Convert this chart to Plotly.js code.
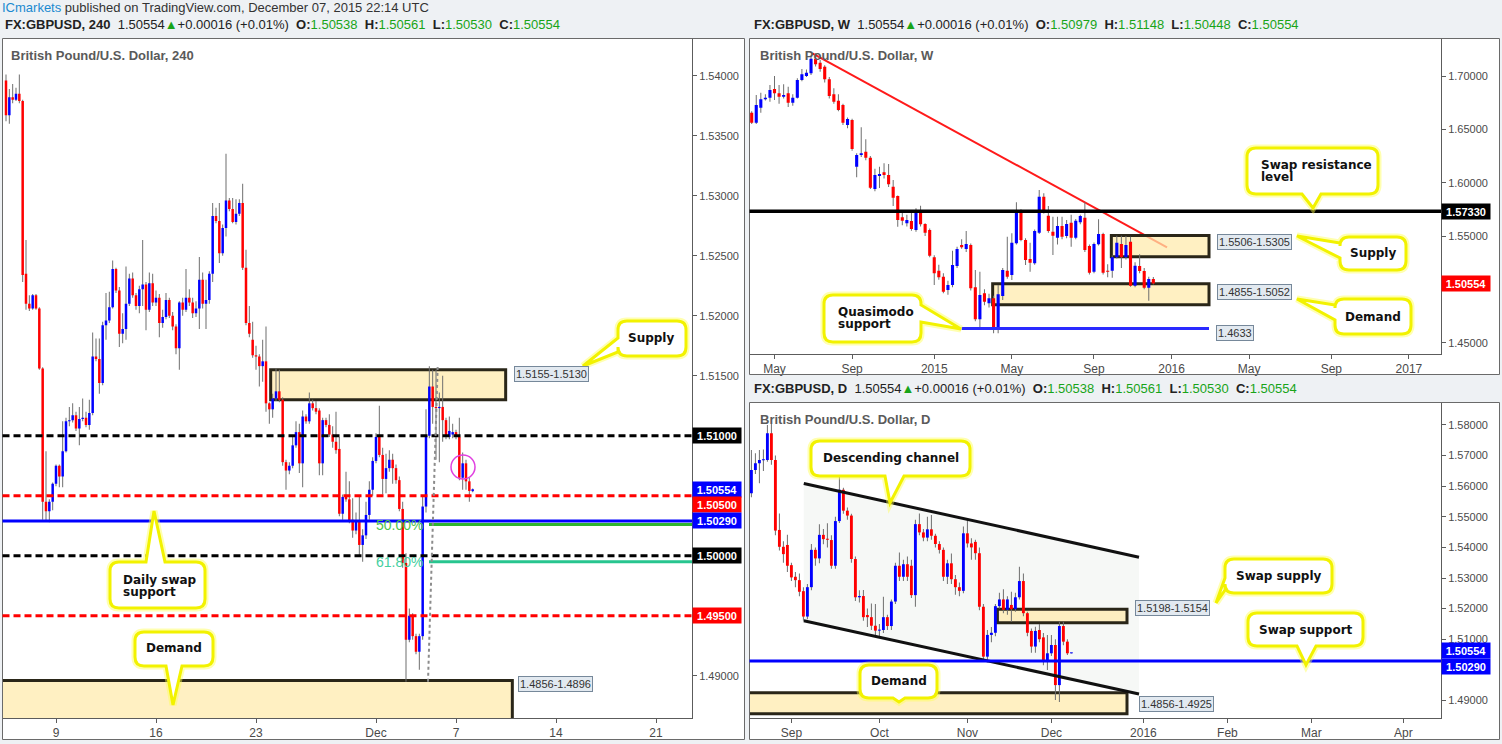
<!DOCTYPE html>
<html><head><meta charset="utf-8">
<script src="https://cdn.plot.ly/plotly-3.0.1.min.js"></script>
<style>html,body{margin:0;padding:0;background:#eef1f4;}#chart{width:1502px;height:744px;}</style>
</head><body><div id="chart"></div>
<script>
// ---------------- DATA ----------------
// GBPUSD 240-minute candles (left panel)
const h4Open=[1.5396,1.5367,1.5382,1.5380,1.5385,1.5379,1.5235,1.5210,1.5206,1.5217,
1.5206,1.5156,1.5045,1.5037,1.5045,1.5060,1.5075,1.5066,1.5087,1.5112,
1.5113,1.5117,1.5106,1.5114,1.5115,1.5109,1.5119,1.5166,1.5164,1.5144,
1.5192,1.5196,1.5207,1.5239,1.5221,1.5185,1.5189,1.5210,1.5231,1.5217,
1.5208,1.5222,1.5226,1.5205,1.5227,1.5211,1.5215,1.5194,1.5199,1.5213,
1.5200,1.5191,1.5173,1.5211,1.5205,1.5215,1.5211,1.5202,1.5206,1.5230,
1.5210,1.5213,1.5235,1.5283,1.5279,1.5252,1.5273,1.5296,1.5289,1.5278,
1.5285,1.5294,1.5240,1.5194,1.5180,1.5167,1.5166,1.5158,1.5162,1.5127,
1.5122,1.5131,1.5137,1.5130,1.5078,1.5071,1.5075,1.5092,1.5103,1.5077,
1.5116,1.5112,1.5127,1.5123,1.5121,1.5077,1.5113,1.5109,1.5101,1.5095,
1.5089,1.5035,1.5049,1.5047,1.5030,1.5021,1.5029,1.5009,1.5017,1.5034,
1.5055,1.5079,1.5099,1.5084,1.5064,1.5073,1.5080,1.5073,1.5063,1.5039,
1.4994,1.4930,1.4950,1.4933,1.4920,1.4933,1.5041,1.5100,1.5141,1.5124,
1.5123,1.5124,1.5113,1.5099,1.5101,1.5103,1.5099,1.5065,1.5077,1.5062,
1.50538];
const h4High=[1.5401,1.5389,1.5393,1.5390,1.5401,1.5380,1.5263,1.5217,1.5218,1.5218,
1.5207,1.5157,1.5087,1.5047,1.5061,1.5076,1.5076,1.5112,1.5115,1.5124,
1.5127,1.5120,1.5124,1.5131,1.5120,1.5130,1.5186,1.5181,1.5181,1.5195,
1.5219,1.5220,1.5246,1.5240,1.5224,1.5202,1.5241,1.5235,1.5236,1.5219,
1.5225,1.5263,1.5228,1.5236,1.5235,1.5221,1.5218,1.5205,1.5219,1.5215,
1.5203,1.5193,1.5212,1.5215,1.5239,1.5222,1.5215,1.5212,1.5249,1.5236,
1.5230,1.5237,1.5294,1.5290,1.5294,1.5276,1.5335,1.5298,1.5298,1.5297,
1.5297,1.5310,1.5255,1.5208,1.5195,1.5175,1.5168,1.5180,1.5191,1.5128,
1.5135,1.5156,1.5155,1.5132,1.5080,1.5078,1.5100,1.5112,1.5110,1.5121,
1.5118,1.5136,1.5130,1.5129,1.5123,1.5115,1.5115,1.5118,1.5108,1.5120,
1.5099,1.5051,1.5070,1.5062,1.5048,1.5036,1.5049,1.5022,1.5045,1.5062,
1.5082,1.5102,1.5125,1.5090,1.5085,1.5088,1.5085,1.5076,1.5066,1.5045,
1.5002,1.4956,1.4952,1.4935,1.4935,1.5050,1.5122,1.5158,1.5155,1.5155,
1.5136,1.5150,1.5115,1.5116,1.5110,1.5105,1.5115,1.5086,1.5080,1.5065,
1.50561];
const h4Low=[1.5362,1.5360,1.5377,1.5379,1.5377,1.5228,1.5205,1.5204,1.5205,1.5205,
1.5155,1.5030,1.5029,1.5028,1.5038,1.5058,1.5057,1.5057,1.5086,1.5108,
1.5111,1.5104,1.5092,1.5112,1.5107,1.5105,1.5117,1.5162,1.5135,1.5142,
1.5180,1.5194,1.5206,1.5219,1.5174,1.5177,1.5180,1.5208,1.5215,1.5205,
1.5202,1.5208,1.5188,1.5203,1.5208,1.5208,1.5182,1.5190,1.5197,1.5198,
1.5188,1.5168,1.5155,1.5200,1.5203,1.5208,1.5198,1.5199,1.5189,1.5206,
1.5189,1.5210,1.5228,1.5277,1.5244,1.5250,1.5266,1.5287,1.5277,1.5276,
1.5283,1.5238,1.5192,1.5182,1.5165,1.5155,1.5141,1.5145,1.5120,1.5110,
1.5115,1.5129,1.5128,1.5075,1.5055,1.5068,1.5073,1.5090,1.5069,1.5057,
1.5110,1.5110,1.5121,1.5118,1.5067,1.5067,1.5107,1.5099,1.5090,1.5085,
1.5033,1.5030,1.5045,1.5027,1.5015,1.5018,1.5000,1.4995,1.5014,1.5030,
1.5050,1.5077,1.5082,1.5051,1.5052,1.5070,1.5060,1.5060,1.5037,1.4990,
1.4895,1.4928,1.4930,1.4918,1.4905,1.4930,1.5036,1.5098,1.5110,1.5080,
1.5078,1.5095,1.5097,1.5097,1.5098,1.5097,1.5063,1.5055,1.5055,1.5045,
1.50530];
const h4Close=[1.5367,1.5382,1.5380,1.5385,1.5379,1.5234,1.5210,1.5206,1.5217,1.5206,
1.5156,1.5045,1.5037,1.5045,1.5060,1.5075,1.5066,1.5087,1.5112,1.5113,
1.5117,1.5106,1.5114,1.5115,1.5109,1.5119,1.5166,1.5164,1.5144,1.5192,
1.5196,1.5207,1.5239,1.5221,1.5185,1.5189,1.5210,1.5231,1.5217,1.5208,
1.5222,1.5226,1.5205,1.5227,1.5211,1.5215,1.5194,1.5199,1.5213,1.5200,
1.5191,1.5173,1.5211,1.5205,1.5215,1.5211,1.5202,1.5206,1.5230,1.5210,
1.5213,1.5235,1.5283,1.5279,1.5252,1.5273,1.5296,1.5289,1.5278,1.5285,
1.5294,1.5240,1.5194,1.5185,1.5167,1.5166,1.5158,1.5162,1.5127,1.5122,
1.5131,1.5137,1.5130,1.5078,1.5071,1.5075,1.5092,1.5103,1.5077,1.5116,
1.5112,1.5127,1.5123,1.5120,1.5077,1.5113,1.5109,1.5101,1.5095,1.5088,
1.5035,1.5049,1.5047,1.5029,1.5021,1.5029,1.5009,1.5017,1.5034,1.5055,
1.5079,1.5099,1.5084,1.5064,1.5073,1.5080,1.5073,1.5063,1.5039,1.4994,
1.4930,1.4950,1.4933,1.4920,1.4933,1.5041,1.5100,1.5141,1.5124,1.5123,
1.5124,1.5113,1.5099,1.5104,1.5103,1.5099,1.5065,1.5077,1.5062,1.5054,
1.50554];
const h4TickVals=[15,45,75,111,135,165,195];
const h4TickText=['9','16','23','Dec','7','14','21'];
const h4PriceTicks=[1.490,1.515,1.520,1.525,1.530,1.535,1.540];

// Weekly candles (top right)
const wOpen=[1.6656,1.6562,1.6703,1.6782,1.6797,1.6878,1.6838,1.6806,1.6838,1.6750,
1.6797,1.6963,1.7000,1.7025,1.7162,1.7125,1.7087,1.6969,1.6828,1.6768,
1.6728,1.6541,1.6588,1.6150,1.6260,1.6290,1.6234,1.5941,1.6063,1.6097,
1.6072,1.5962,1.5875,1.5675,1.5619,1.5641,1.5556,1.5719,1.5613,1.5556,
1.5301,1.5175,1.5119,1.4994,1.5041,1.5219,1.5416,1.5378,1.5416,1.5019,
1.4719,1.4963,1.4869,1.4916,1.4626,1.4938,1.5175,1.5135,1.5432,1.5735,
1.5463,1.5285,1.5244,1.5531,1.5869,1.5690,1.5540,1.5484,1.5594,1.5500,
1.5625,1.5484,1.5628,1.5672,1.5406,1.5166,1.5422,1.5519,1.5175,1.5175,
1.5300,1.5425,1.5300,1.5447,1.5034,1.5219,1.5172,1.5016,1.50979];
const wHigh=[1.6670,1.6822,1.6843,1.6830,1.6916,1.7000,1.6916,1.6922,1.6900,1.6830,
1.6980,1.7066,1.7060,1.7180,1.7213,1.7150,1.7100,1.6990,1.6885,1.6830,
1.6740,1.6610,1.6600,1.6275,1.6519,1.6407,1.6250,1.6130,1.6150,1.6182,
1.6175,1.6025,1.5880,1.5744,1.5700,1.5720,1.5760,1.5784,1.5620,1.5570,
1.5320,1.5230,1.5150,1.5080,1.5362,1.5400,1.5469,1.5547,1.5430,1.5181,
1.5166,1.5000,1.4960,1.4940,1.5041,1.5200,1.5494,1.5525,1.5816,1.5750,
1.5480,1.5437,1.5560,1.5931,1.5900,1.5781,1.5681,1.5680,1.5680,1.5650,
1.5700,1.5660,1.5700,1.5816,1.5420,1.5440,1.5657,1.5530,1.5235,1.5320,
1.5503,1.5503,1.5500,1.5494,1.5254,1.5329,1.5200,1.5119,1.51148];
const wLow=[1.6550,1.6550,1.6656,1.6770,1.6759,1.6775,1.6740,1.6790,1.6710,1.6720,
1.6790,1.6950,1.6990,1.7010,1.7090,1.7040,1.6940,1.6790,1.6740,1.6670,
1.6540,1.6510,1.6300,1.6050,1.6240,1.6210,1.5940,1.5920,1.5950,1.6040,
1.5960,1.5781,1.5587,1.5600,1.5590,1.5550,1.5540,1.5590,1.5500,1.5300,
1.5041,1.5090,1.4963,1.4950,1.5020,1.5200,1.5380,1.5350,1.4990,1.4700,
1.4626,1.4850,1.4830,1.4588,1.4588,1.4900,1.5100,1.5088,1.5420,1.5450,
1.5228,1.5166,1.5230,1.5520,1.5710,1.5530,1.5322,1.5420,1.5470,1.5480,
1.5400,1.5470,1.5610,1.5350,1.5140,1.5150,1.5410,1.5140,1.5113,1.5110,
1.5290,1.5200,1.5280,1.5025,1.5020,1.5150,1.5000,1.4894,1.50448];
const wClose=[1.6562,1.6728,1.6782,1.6797,1.6869,1.6838,1.6806,1.6822,1.6750,1.6797,
1.6963,1.7016,1.7031,1.7162,1.7110,1.7066,1.6969,1.6813,1.6759,1.6681,
1.6562,1.6597,1.6316,1.6260,1.6275,1.6234,1.5953,1.6072,1.6081,1.6072,
1.5985,1.5859,1.5650,1.5644,1.5650,1.5566,1.5719,1.5610,1.5531,1.5316,
1.5150,1.5113,1.4978,1.5041,1.5228,1.5378,1.5394,1.5425,1.5010,1.4719,
1.4947,1.4884,1.4916,1.4626,1.4954,1.5181,1.5119,1.5437,1.5728,1.5463,
1.5275,1.5250,1.5547,1.5869,1.5728,1.5547,1.5503,1.5594,1.5494,1.5613,
1.5484,1.5644,1.5688,1.5369,1.5156,1.5425,1.5519,1.5156,1.5166,1.5300,
1.5437,1.5300,1.5416,1.5034,1.5222,1.5172,1.5016,1.5097,1.50554];
const wTickVals=[5,22,40,57,75,92,109,127,144];
const wTickText=['May','Sep','2015','May','Sep','2016','May','Sep','2017'];
const wPriceTicks=[1.45,1.55,1.60,1.65,1.70];

// Daily candles (bottom right)
const dOpen=[1.5577,1.5653,1.5675,1.5685,1.5686,1.5773,1.5686,1.5457,1.5402,1.5408,
1.5342,1.5304,1.5293,1.5257,1.5174,1.5270,1.5392,1.5364,1.5441,1.5427,
1.5424,1.5340,1.5486,1.5588,1.5520,1.5504,1.5362,1.5237,1.5241,1.5179,
1.5172,1.5144,1.5128,1.5130,1.5172,1.5143,1.5223,1.5340,1.5304,1.5345,
1.5340,1.5244,1.5476,1.5449,1.5432,1.5459,1.5438,1.5411,1.5392,1.5304,
1.5348,1.5296,1.5270,1.5258,1.5446,1.5413,1.5418,1.5381,1.5206,1.5043,
1.5114,1.5121,1.5208,1.5230,1.5196,1.5212,1.5198,1.5237,1.5290,1.5185,
1.5127,1.5076,1.5130,1.5106,1.5030,1.5054,1.5081,1.4950,1.5143,1.5092,
1.50538];
const dHigh=[1.5718,1.5708,1.5718,1.5720,1.5800,1.5803,1.5700,1.5511,1.5420,1.5441,
1.5350,1.5320,1.5315,1.5270,1.5280,1.5411,1.5400,1.5476,1.5460,1.5479,
1.5440,1.5500,1.5655,1.5595,1.5530,1.5510,1.5370,1.5260,1.5261,1.5200,
1.5217,1.5215,1.5150,1.5239,1.5180,1.5230,1.5350,1.5383,1.5360,1.5370,
1.5360,1.5490,1.5511,1.5460,1.5500,1.5506,1.5445,1.5420,1.5400,1.5360,
1.5380,1.5310,1.5285,1.5468,1.5495,1.5430,1.5425,1.5400,1.5215,1.5130,
1.5140,1.5215,1.5252,1.5263,1.5240,1.5255,1.5252,1.5337,1.5315,1.5190,
1.5135,1.5141,1.5150,1.5120,1.5114,1.5114,1.5100,1.5157,1.5157,1.5100,
1.50561];
const dLow=[1.5564,1.5640,1.5610,1.5650,1.5680,1.5670,1.5440,1.5390,1.5350,1.5320,
1.5290,1.5270,1.5240,1.5160,1.5165,1.5260,1.5340,1.5348,1.5410,1.5400,
1.5330,1.5330,1.5480,1.5510,1.5490,1.5350,1.5225,1.5220,1.5160,1.5140,
1.5130,1.5111,1.5110,1.5120,1.5130,1.5130,1.5215,1.5290,1.5290,1.5290,
1.5235,1.5206,1.5440,1.5420,1.5420,1.5425,1.5400,1.5380,1.5290,1.5280,
1.5280,1.5245,1.5240,1.5250,1.5400,1.5360,1.5360,1.5195,1.5030,1.5025,
1.5090,1.5110,1.5200,1.5185,1.5180,1.5157,1.5190,1.5230,1.5175,1.5110,
1.5056,1.5056,1.5090,1.5015,1.4999,1.5045,1.4901,1.4895,1.5080,1.5048,
1.50530];
const dClose=[1.5653,1.5675,1.5686,1.5688,1.5773,1.5686,1.5455,1.5402,1.5378,1.5340,
1.5302,1.5293,1.5255,1.5174,1.5270,1.5392,1.5364,1.5441,1.5427,1.5425,
1.5340,1.5486,1.5588,1.5520,1.5504,1.5362,1.5237,1.5241,1.5172,1.5172,
1.5144,1.5128,1.5130,1.5172,1.5143,1.5223,1.5340,1.5304,1.5345,1.5304,
1.5244,1.5476,1.5449,1.5432,1.5459,1.5438,1.5411,1.5392,1.5304,1.5348,
1.5296,1.5270,1.5258,1.5446,1.5413,1.5400,1.5381,1.5206,1.5043,1.5114,
1.5121,1.5208,1.5230,1.5196,1.5230,1.5198,1.5237,1.5290,1.5185,1.5121,
1.5076,1.5127,1.5100,1.5030,1.5054,1.5081,1.4950,1.5143,1.5092,1.5054,
1.50554];
const dTickVals=[10,32,54,75,98,119,140,163];
const dTickText=['Sep','Oct','Nov','Dec','2016','Feb','Mar','Apr'];
const dPriceTicks=[1.49,1.51,1.52,1.53,1.54,1.55,1.56,1.57,1.58];

// Zones and levels
const h4Supply=[1.5130,1.5155];
const h4Demand=[1.4856,1.4896];
const h4Round=[1.5100,1.5000];
const h4Half=[1.5050,1.4950];
const swapSupport=1.5029;
const fibAnchor=[1.4895,1.5157];
const fibRatios=[0.5,0.618];
const wSupply=[1.5305,1.5506];
const wDemand=[1.4855,1.5052];
const wQuasimodo=1.4633;
const wSwapRes=1.5733;
const wTrend=[1.7213,1.5394];
const dSwapSupply=[1.5154,1.5198];
const dDemand=[1.4856,1.4925];
const dChannelTop=[1.5609,1.5368];
const dChannelBot=[1.5160,1.4921];
const lastChange='+0.00016 (+0.01%)';

// ---------------- LAYOUT HELPERS ----------------
const W=1502,H=744;
const fx=px=>px/W, fy=py=>1-py/H;
const FONT='Liberation Sans, Arial, sans-serif';
const BFONT='DejaVu Sans, Verdana, sans-serif';
const GREEN='#18a418';

const PN={
 h4:{x0:2.5,x1:692,y0:38.5,y1:718,xr:[-1.05,205.8],yr:[1.48648,1.54310]},
 w:{x0:749.5,x1:1441,y0:38.5,y1:353.5,xr:[-0.48,151.03],yr:[1.43988,1.73515]},
 d:{x0:749.5,x1:1441,y0:402.5,y1:718,xr:[-0.475,172.4],yr:[1.48425,1.58735]}
};

function xAxis(p,tv,tt,anchor){return {domain:[fx(p.x0),fx(p.x1)],range:p.xr,anchor:anchor,showgrid:false,zeroline:false,showline:true,linecolor:'#5c5c5c',linewidth:1,ticks:'outside',ticklen:4,tickcolor:'#5c5c5c',tickmode:'array',tickvals:tv,ticktext:tt,tickfont:{family:FONT,size:12,color:'#4a4a4a'},fixedrange:true};}
function yAxis(p,tv,anchor){return {domain:[fy(p.y1),fy(p.y0)],range:p.yr,anchor:anchor,side:'right',showgrid:false,zeroline:false,showline:true,linecolor:'#5c5c5c',linewidth:1,ticks:'outside',ticklen:4,tickcolor:'#5c5c5c',tickmode:'array',tickvals:tv,tickformat:'.5f',tickfont:{family:FONT,size:11,color:'#4a4a4a'},fixedrange:true};}

function candles(o,h,l,c,xa,ya,bodyW,wickW,minH){
 const x=o.map((_,i)=>i);
 const wick={type:'bar',x:x,base:l,y:h.map((v,i)=>v-l[i]),width:wickW,marker:{color:'#6f6f6f',line:{width:0}},xaxis:xa,yaxis:ya,hoverinfo:'skip',showlegend:false};
 const body={type:'bar',x:x,base:o.map((v,i)=>Math.min(v,c[i])),y:o.map((v,i)=>Math.max(Math.abs(c[i]-v),minH)),width:bodyW,
  marker:{color:o.map((v,i)=>c[i]>=v?'#0000ff':'#ff0000'),line:{width:0}},xaxis:xa,yaxis:ya,hoverinfo:'skip',showlegend:false};
 return [wick,body];
}

const traces=[].concat(
 candles(h4Open,h4High,h4Low,h4Close,'x','y',0.75,0.3,0.00009),
 candles(wOpen,wHigh,wLow,wClose,'x2','y2',0.68,0.22,0.0009),
 candles(dOpen,dHigh,dLow,dClose,'x3','y3',0.72,0.25,0.00033)
);

const shapes=[], ann=[];
function rectPx(x0,y0,x1,y1,o){shapes.push(Object.assign({type:'rect',xref:'paper',yref:'paper',x0:fx(x0),x1:fx(x1),y0:fy(y1),y1:fy(y0)},o));}
[[2.5,38.5,744.5,739.5],[749.5,38.5,1499.5,374.5],[749.5,402.5,1499.5,739.5]].forEach(r=>{
 rectPx(r[0],r[1],r[2],r[3],{fillcolor:'#ffffff',line:{width:0},layer:'below'});
 rectPx(r[0],r[1],r[2],r[3],{fillcolor:'rgba(0,0,0,0)',line:{color:'#6a6a6a',width:1},layer:'above'});
});
function zone(xa,ya,x0,x1,lh){shapes.push({type:'rect',xref:xa,yref:ya,x0:x0,x1:x1,y0:lh[0],y1:lh[1],fillcolor:'rgba(255,234,170,0.72)',line:{color:'#2a2618',width:3},layer:'below'});}
function level(xa,ya,y,color,width,dash){shapes.push({type:'line',xref:xa+' domain',yref:ya,x0:0,x1:1,y0:y,y1:y,line:{color:color,width:width,dash:dash||'solid'},layer:'above'});}
function seg(xa,ya,x0,y0,x1,y1,color,width,dash,layer){shapes.push({type:'line',xref:xa,yref:ya,x0:x0,y0:y0,x1:x1,y1:y1,line:{color:color,width:width,dash:dash||'solid'},layer:layer||'above'});}

// ---- left (240) panel ----
zone('x','y',79.4,149.9,h4Supply);
zone('x','y',-5,151.9,h4Demand);
h4Round.forEach(v=>level('x','y',v,'#000000',3,'7px,4px'));
h4Half.forEach(v=>level('x','y',v,'#ff0000',3,'7px,4px'));
level('x','y',swapSupport,'#0000ff',3);
const fibCols=['#2fb52f','#28c58f'];
const fibText=['#4cc24c','#45cfa0'];
fibRatios.forEach((r,i)=>{
 const v=fibAnchor[1]-(fibAnchor[1]-fibAnchor[0])*r;
 seg('x','y',126.9,v,206,v,fibCols[i],3);
 ann.push({xref:'x',yref:'y',x:125.8,y:v,xanchor:'right',yanchor:'middle',text:(r*100).toFixed(2)+'%',showarrow:false,font:{family:FONT,size:14,color:fibText[i]}});
});
seg('x','y',126.6,fibAnchor[0],129.5,fibAnchor[1]+0.0001,'#8c8c8c',2,'dot');
shapes.push({type:'circle',xref:'x',yref:'y',x0:133.5,x1:140.7,y0:1.5064,y1:1.5084,line:{color:'#e040e0',width:1.5},layer:'above'});

// ---- weekly panel ----
seg('x2','y2',13.3,wTrend[0],91.0,wTrend[1],'#ff1a1a',2,'solid','below');
zone('x2','y2',78.8,100.2,wSupply);
zone('x2','y2',52.8,100.2,wDemand);
level('x2','y2',wSwapRes,'#000000',3.5);
seg('x2','y2',46,wQuasimodo,100.2,wQuasimodo,'#2a2aff',3);

// ---- daily panel ----
shapes.push({type:'path',xref:'x3',yref:'y3',path:'M13.1,'+dChannelTop[0]+' L96.9,'+dChannelTop[1]+' L96.9,'+dChannelBot[1]+' L13.1,'+dChannelBot[0]+' Z',fillcolor:'rgba(228,236,228,0.35)',line:{width:0},layer:'below'});
zone('x3','y3',61.5,93.9,dSwapSupply);
zone('x3','y3',-5,93.9,dDemand);
seg('x3','y3',13.1,dChannelTop[0],96.9,dChannelTop[1],'#111111',3);
seg('x3','y3',13.1,dChannelBot[0],96.9,dChannelBot[1],'#111111',3);
level('x3','y3',swapSupport,'#0000ff',3);

// ---- callout bubbles ----
function bubble(b){
 const [x0,y0,x1,y1]=b.box, r=9, t=b.tail, tp=t.tip;
 const P=(x,y)=>fx(x).toFixed(6)+','+fy(y).toFixed(6);
 let d='M'+P(x0+r,y0);
 if(t.side==='top') d+=' L'+P(t.a,y0)+' L'+P(tp[0],tp[1])+' L'+P(t.b,y0);
 d+=' L'+P(x1-r,y0)+' Q'+P(x1,y0)+' '+P(x1,y0+r);
 if(t.side==='right') d+=' L'+P(x1,t.a)+' L'+P(tp[0],tp[1])+' L'+P(x1,t.b);
 d+=' L'+P(x1,y1-r)+' Q'+P(x1,y1)+' '+P(x1-r,y1);
 if(t.side==='bottom') d+=' L'+P(t.b,y1)+' L'+P(tp[0],tp[1])+' L'+P(t.a,y1);
 d+=' L'+P(x0+r,y1)+' Q'+P(x0,y1)+' '+P(x0,y1-r);
 if(t.side==='left') d+=' L'+P(x0,t.b)+' L'+P(tp[0],tp[1])+' L'+P(x0,t.a);
 d+=' L'+P(x0,y0+r)+' Q'+P(x0,y0)+' '+P(x0+r,y0)+' Z';
 shapes.push({type:'path',xref:'paper',yref:'paper',path:d,line:{color:'rgba(255,255,80,0.45)',width:7},fillcolor:'rgba(0,0,0,0)',layer:'above'});
 shapes.push({type:'path',xref:'paper',yref:'paper',path:d,line:{color:'#f2f200',width:3},fillcolor:'#ffffff',layer:'above'});
 b.lines.forEach((ln,i)=>{
  ann.push({xref:'paper',yref:'paper',x:fx(b.tx),y:fy(b.ty+i*12),xanchor:b.left?'left':'center',yanchor:'middle',text:'<b>'+ln+'</b>',showarrow:false,font:{family:BFONT,size:12,color:'#111111'}});
 });
}
[
 {lines:['Supply'],box:[618,321,686,356],tail:{side:'left',a:338,b:352,tip:[583,366]},tx:651,ty:338},
 {lines:['Daily swap','support'],box:[110,562,205,608],tail:{side:'top',a:146,b:165,tip:[154,511]},tx:121,ty:579.5,left:true},
 {lines:['Demand'],box:[135,632,213,666],tail:{side:'bottom',a:166,b:182,tip:[173,705]},tx:174,ty:648},
 {lines:['Swap resistance','level'],box:[1247,148,1378,194],tail:{side:'bottom',a:1302,b:1321,tip:[1313,208]},tx:1259,ty:165,left:true},
 {lines:['Supply'],box:[1340,237,1406,270],tail:{side:'left',a:243,b:258,tip:[1297,236]},tx:1373,ty:253},
 {lines:['Demand'],box:[1335,299,1411,334],tail:{side:'left',a:305,b:320,tip:[1297,299]},tx:1373,ty:316.5},
 {lines:['Quasimodo','support'],box:[824,295,921,342],tail:{side:'right',a:305,b:322,tip:[961,329]},tx:836,ty:312,left:true},
 {lines:['Descending channel'],box:[811,441,970,476],tail:{side:'bottom',a:885,b:904,tip:[890,503]},tx:890.5,ty:458},
 {lines:['Swap supply'],box:[1225,559,1332,593],tail:{side:'left',a:578,b:590,tip:[1216,603]},tx:1279,ty:576},
 {lines:['Swap support'],box:[1248,613,1363,646],tail:{side:'bottom',a:1297,b:1316,tip:[1306,665]},tx:1306,ty:629.5},
 {lines:['Demand'],box:[860,665,937,698],tail:{side:'bottom',a:893,b:905,tip:[899,702]},tx:899,ty:681}
].forEach(bubble);

// ---- range labels ----
function tag(txt,cx,cy){ann.push({xref:'paper',yref:'paper',x:fx(cx),y:fy(cy),xanchor:'center',yanchor:'middle',text:txt,showarrow:false,bgcolor:'#e2e9f0',bordercolor:'#76889a',borderwidth:1,borderpad:1,font:{family:FONT,size:11,color:'#333333'}});}
const rng=(a)=>a[1].toFixed(4)+'-'+a[0].toFixed(4);
tag(rng(h4Supply),551.5,373.5);
tag(h4Demand[0].toFixed(4)+'-'+h4Demand[1].toFixed(4),555.5,684);
tag(rng(wSupply),1254,241.5);
tag(wDemand[0].toFixed(4)+'-'+wDemand[1].toFixed(4),1254,292.5);
tag(wQuasimodo.toFixed(4),1234.5,332.5);
tag(rng(dSwapSupply),1172,607.5);
tag(dDemand[0].toFixed(4)+'-'+dDemand[1].toFixed(4),1176,703.5);

// ---- price-scale tags ----
function ptag(v,ya,xpx,bg,ys){ann.push({xref:'paper',yref:ya,x:fx(xpx),y:v,xanchor:'left',yanchor:'middle',yshift:ys||0,text:'<b>'+v.toFixed(5)+'</b>',showarrow:false,bgcolor:bg,width:46,height:13,borderpad:1,font:{family:FONT,size:11,color:'#ffffff'}});}
const lastH4=h4Close[h4Close.length-1], lastW=wClose[wClose.length-1], lastD=dClose[dClose.length-1];
ptag(h4Round[0],'y',692,'#000000');
ptag(lastH4,'y',692,'#0000ff');
ptag(h4Half[0],'y',692,'#ff0000',-9);
ptag(swapSupport,'y',692,'#0000ff');
ptag(h4Round[1],'y',692,'#000000');
ptag(h4Half[1],'y',692,'#ff0000');
ptag(wSwapRes,'y2',1441,'#000000');
ptag(lastW,'y2',1441,'#ff0000');
ptag(lastD,'y3',1441,'#0000ff',2);
ptag(swapSupport,'y3',1441,'#0000ff',-6);

// ---- headers / titles ----
const NB='\u00a0';
function hdr(tf,o,h,l,c,last,px,py){
 const g=s=>'<span style="color:'+GREEN+'">'+s+'</span>';
 ann.push({xref:'paper',yref:'paper',x:fx(px),y:fy(py),xanchor:'left',yanchor:'middle',showarrow:false,
  text:'<b>FX:GBPUSD, '+tf+'</b>'+NB+NB+last.toFixed(5)+g('▲')+lastChange+NB+NB+'<b>O:</b>'+g(o.toFixed(5))+NB+NB+'<b>H:</b>'+g(h.toFixed(5))+NB+NB+'<b>L:</b>'+g(l.toFixed(5))+NB+NB+'<b>C:</b>'+g(c.toFixed(5)),
  font:{family:FONT,size:13,color:'#222222'}});
}
const n4=h4Close.length-1, nw=wClose.length-1, nd=dClose.length-1;
hdr('240',h4Open[n4],h4High[n4],h4Low[n4],h4Close[n4],lastH4,3,24.5);
hdr('W',wOpen[nw],wHigh[nw],wLow[nw],wClose[nw],lastW,752,24.5);
hdr('D',dOpen[nd],dHigh[nd],dLow[nd],dClose[nd],lastD,752,388);
ann.push({xref:'paper',yref:'paper',x:0,y:fy(7.5),xanchor:'left',yanchor:'middle',showarrow:false,
 text:'<span style="color:#1b8ad0">ICmarkets</span> published on TradingView.com, December 07, 2015 22:14 UTC',font:{family:FONT,size:13,color:'#333333'}});
function title(t,px,py){ann.push({xref:'paper',yref:'paper',x:fx(px),y:fy(py),xanchor:'left',yanchor:'middle',showarrow:false,text:'<b>'+t+'</b>',font:{family:FONT,size:13,color:'#5a5a5a'}});}
title('British Pound/U.S. Dollar, 240',9,55);
title('British Pound/U.S. Dollar, W',758,55);
title('British Pound/U.S. Dollar, D',758,419);

const layout={
 width:W,height:H,margin:{l:0,r:0,t:0,b:0,pad:0},autosize:false,
 paper_bgcolor:'#eef1f4',plot_bgcolor:'#ffffff',showlegend:false,barmode:'overlay',
 font:{family:FONT,size:11,color:'#4a4a4a'},
 xaxis:xAxis(PN.h4,h4TickVals,h4TickText,'y'),
 yaxis:yAxis(PN.h4,h4PriceTicks,'x'),
 xaxis2:xAxis(PN.w,wTickVals,wTickText,'y2'),
 yaxis2:yAxis(PN.w,wPriceTicks,'x2'),
 xaxis3:xAxis(PN.d,dTickVals,dTickText,'y3'),
 yaxis3:yAxis(PN.d,dPriceTicks,'x3'),
 shapes:shapes,annotations:ann
};
Plotly.newPlot('chart',traces,layout,{staticPlot:true,displayModeBar:false});
</script></body></html>
